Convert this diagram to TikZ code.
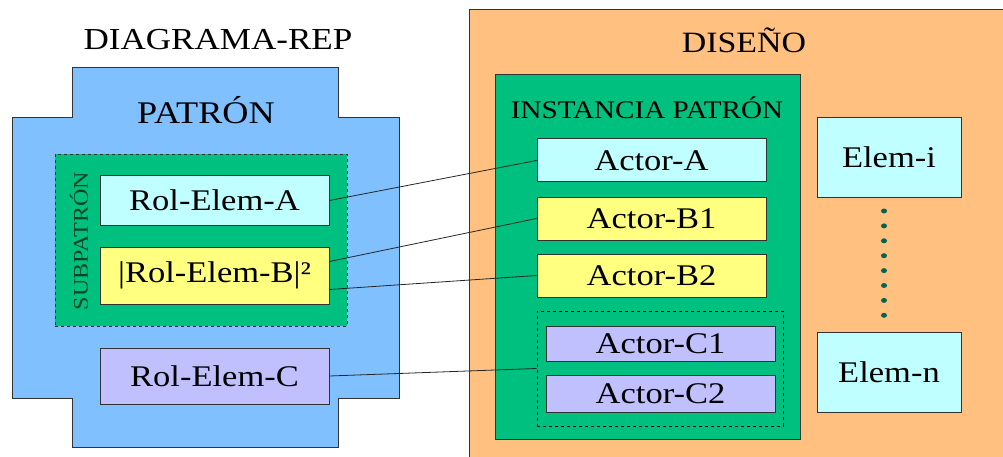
\documentclass[tikz,border=0pt]{standalone}
\usepackage{fontspec}
\setmainfont{Liberation Serif}[FakeStretch=1.15]
\definecolor{patblue}{RGB}{128,192,255}
\definecolor{patgreen}{RGB}{0,192,128}
\definecolor{cyanbox}{RGB}{192,255,255}
\definecolor{yellowbox}{RGB}{255,255,128}
\definecolor{lilacbox}{RGB}{192,192,255}
\definecolor{designorange}{RGB}{255,192,128}
\definecolor{edge}{RGB}{50,50,50}
\definecolor{dotgreen}{RGB}{0,100,80}
\definecolor{subgreen}{RGB}{0,70,35}
\tikzset{
  x=1pt, y=-1pt,
  elembox/.style={draw=edge, line width=1pt, inner sep=0pt, font=\fontsize{30}{32}\selectfont},
  rolbox/.style={elembox, minimum width=229pt},
  actbox/.style={elembox, minimum width=229pt},
  link/.style={draw=black!85, line width=0.8pt},
  title/.style={font=\fontsize{30}{32}\selectfont, inner sep=0pt},
}
\begin{document}
\begin{tikzpicture}
\useasboundingbox (0,0) rectangle (1003,457);
% design area
\draw[fill=designorange, draw=edge, line width=1pt] (469,10) rectangle (1015,470);
\node[title, font=\fontsize{29.5}{32}\selectfont] (dis) at (744,40) {DISEÑO};
% pattern cross-shaped area
\draw[fill=patblue, draw=edge, line width=1pt]
  (72,68) -- (338,68) -- (338,118) -- (399,118) -- (399,398) -- (338,398)
  -- (338,447) -- (72,447) -- (72,398) -- (12,398) -- (12,118) -- (72,118) -- cycle;
\node[title, font=\fontsize{30.5}{32}\selectfont] (drep) at (218,40) {DIAGRAMA-REP};
\node[title, font=\fontsize{31.5}{33}\selectfont] (pat) at (206,110) {PATRÓN};
% sub-pattern
\node[draw=edge, dashed, line width=0.8pt, fill=patgreen, minimum width=292pt, minimum height=172pt, inner sep=0pt] (sub) at (201,240) {};
\node[rotate=90, font=\fontsize{21}{23}\selectfont, text=subgreen, inner sep=0pt] (subt) at (79,241) {SUBPATRÓN};
\node[rolbox, fill=cyanbox, minimum height=49pt] (ra) at (214.5,200.5) {Rol-Elem-A};
\node[rolbox, fill=yellowbox, minimum height=57pt] (rb) at (214.5,275.5) {|Rol-Elem-B|²};
\node[rolbox, fill=lilacbox, minimum height=56pt] (rc) at (214.5,376) {Rol-Elem-C};
% pattern instance
\node[draw=edge, line width=1pt, fill=patgreen, minimum width=305pt, minimum height=364pt, inner sep=0pt] (inst) at (647.5,257) {};
\node[font=\fontsize{25.3}{27}\selectfont, inner sep=0pt] (instt) at (647,108) {INSTANCIA PATRÓN};
\node[actbox, fill=cyanbox, minimum height=43pt] (aa) at (651.5,160.5) {Actor-A};
\node[actbox, fill=yellowbox, minimum height=43pt] (ab1) at (651.5,218.5) {Actor-B1};
\node[actbox, fill=yellowbox, minimum height=43pt] (ab2) at (651.5,275.5) {Actor-B2};
\node[draw=black, dashed, line width=0.8pt, minimum width=246pt, minimum height=115pt, inner sep=0pt] (cgrp) at (660,368.5) {};
\node[actbox, fill=lilacbox, minimum height=35pt] (ac1) at (660.5,343.5) {Actor-C1};
\node[actbox, fill=lilacbox, minimum height=37pt] (ac2) at (660.5,393.5) {Actor-C2};
% other design elements
\node[elembox, fill=cyanbox, minimum width=144pt, minimum height=79pt] (ei) at (889,157.5) {Elem-i};
\node[elembox, fill=cyanbox, minimum width=144pt, minimum height=80pt] (en) at (889,372) {Elem-n};
\foreach \k in {0,...,7}
  \fill[dotgreen] (884,{211+\k*14.9}) ellipse (3pt and 2.5pt);
% role bindings
\draw[link] (ra.east) -- (aa.west);
\draw[link] ([yshift=14pt]rb.east) -- (ab1.west);
\draw[link] ([yshift=-14pt]rb.east) -- (ab2.west);
\draw[link] (rc.east) -- (cgrp.west);
\end{tikzpicture}
\end{document}
